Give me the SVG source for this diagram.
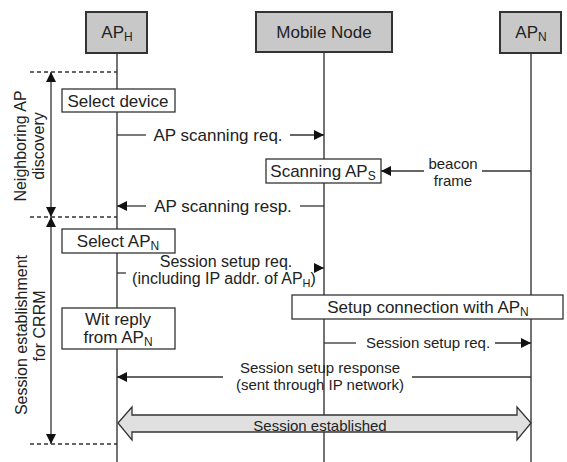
<svg xmlns="http://www.w3.org/2000/svg" width="567" height="462" viewBox="0 0 567 462">
<defs>
<style>
text{font-family:"Liberation Sans",Arial,sans-serif;fill:#222;}
.t17{font-size:17px;}
.t16{font-size:16px;}
.t15{font-size:15px;}
.mid{text-anchor:middle;}
.hdr{fill:#c8c8c8;stroke:#333;stroke-width:2;}
.box{fill:#fff;stroke:#333;stroke-width:1.3;}
.life{stroke:#444;stroke-width:1.5;fill:none;}
.ln{stroke:#333;stroke-width:1.3;fill:none;}
.dash{stroke:#333;stroke-width:1.3;stroke-dasharray:4 3;fill:none;}
.big{fill:#e0e0e0;stroke:#333;stroke-width:1.3;}
</style>
<marker id="ah" viewBox="0 0 10 10" refX="10" refY="5" markerWidth="10" markerHeight="10" markerUnits="userSpaceOnUse" orient="auto-start-reverse">
<path d="M0,0 L10,5 L0,10 z" fill="#111"/>
</marker>
</defs>

<g id="lifelines">
<line class="life" x1="117" y1="53" x2="117" y2="462"/>
<line class="life" x1="324" y1="52" x2="324" y2="462"/>
<line class="life" x1="531" y1="53" x2="531" y2="462"/>
</g>

<g id="node-aph">
<rect class="hdr" x="86" y="12" width="61" height="41"/>
<text class="t17 mid" x="117" y="38">AP<tspan font-size="12" dy="3">H</tspan></text>
</g>
<g id="node-mobile">
<rect class="hdr" x="256" y="12" width="136" height="40"/>
<text class="t17 mid" x="324" y="38">Mobile Node</text>
</g>
<g id="node-apn">
<rect class="hdr" x="500" y="12" width="61" height="41"/>
<text class="t17 mid" x="531" y="38">AP<tspan font-size="12" dy="3">N</tspan></text>
</g>

<g id="phase-discovery">
<text class="t16 mid" transform="translate(26,146) rotate(-90)">Neighboring AP</text>
<text class="t16 mid" transform="translate(44,146) rotate(-90)">discovery</text>
</g>
<g id="phase-session">
<text class="t16 mid" transform="translate(27,335) rotate(-90)">Session establishment</text>
<text class="t16 mid" transform="translate(45,326) rotate(-90)">for CRRM</text>
</g>

<g id="node-select-device">
<rect class="box" x="62" y="89" width="113" height="23"/>
<text class="t17 mid" x="118" y="107">Select device</text>
</g>
<g id="node-scanning">
<rect class="box" x="266" y="159" width="115" height="24"/>
<text class="t17 mid" x="323" y="177">Scanning AP<tspan font-size="12" dy="3">S</tspan></text>
</g>
<g id="node-select-apn">
<rect class="box" x="62" y="229" width="113" height="24"/>
<text class="t17 mid" x="118" y="247">Select AP<tspan font-size="12" dy="3">N</tspan></text>
</g>
<g id="node-setup-conn">
<rect class="box" x="292" y="295" width="271" height="24"/>
<text class="t17 mid" x="428" y="313">Setup connection with AP<tspan font-size="12" dy="3">N</tspan></text>
</g>
<g id="node-wait">
<rect class="box" x="62" y="308" width="113" height="41"/>
<text class="t17 mid" x="118" y="325">Wit reply</text>
<text class="t17 mid" x="118" y="343">from AP<tspan font-size="12" dy="3">N</tspan></text>
</g>

<g id="connectors">
<line class="dash" x1="30" y1="72" x2="117" y2="72"/>
<line class="dash" x1="30" y1="217" x2="117" y2="217"/>
<line class="dash" x1="30" y1="444" x2="117" y2="444"/>
<line class="ln" x1="51" y1="72" x2="51" y2="217" marker-start="url(#ah)" marker-end="url(#ah)"/>
<line class="ln" x1="51" y1="217" x2="51" y2="444" marker-start="url(#ah)" marker-end="url(#ah)"/>

<line class="ln" x1="117" y1="135" x2="146" y2="135"/>
<line class="ln" x1="290" y1="135" x2="324" y2="135" marker-end="url(#ah)"/>
<text class="t17 mid" x="218" y="141">AP scanning req.</text>

<line class="ln" x1="531" y1="171" x2="482" y2="171"/>
<line class="ln" x1="424" y1="171" x2="381" y2="171" marker-end="url(#ah)"/>
<text class="t15 mid" x="453" y="169">beacon</text>
<text class="t15 mid" x="453" y="186">frame</text>

<line class="ln" x1="324" y1="206" x2="300" y2="206"/>
<line class="ln" x1="146" y1="206" x2="117" y2="206" marker-end="url(#ah)"/>
<text class="t17 mid" x="223" y="212">AP scanning resp.</text>

<line class="ln" x1="117" y1="273" x2="126" y2="273"/>
<line class="ln" x1="316" y1="268" x2="324" y2="268" marker-end="url(#ah)"/>
<text class="t16 mid" x="226" y="267">Session setup req.</text>
<text class="t16 mid" x="224" y="284">(including IP addr. of AP<tspan font-size="11" dy="3">H</tspan><tspan dy="-3">)</tspan></text>

<line class="ln" x1="324" y1="343" x2="356" y2="343"/>
<line class="ln" x1="495" y1="343" x2="531" y2="343" marker-end="url(#ah)"/>
<text class="t15 mid" x="428" y="348">Session setup req.</text>

<line class="ln" x1="531" y1="377" x2="412" y2="377"/>
<line class="ln" x1="223" y1="377" x2="117" y2="377" marker-end="url(#ah)"/>
<text class="t15 mid" x="320" y="373">Session setup response</text>
<text class="t15 mid" x="320" y="390">(sent through IP network)</text>

<polygon class="big" points="118,423 132,407 132,415 517,415 517,407 531,423 517,440 517,432 132,432 132,440"/>
<text class="t15 mid" x="320" y="431">Session established</text>
</g>
</svg>
